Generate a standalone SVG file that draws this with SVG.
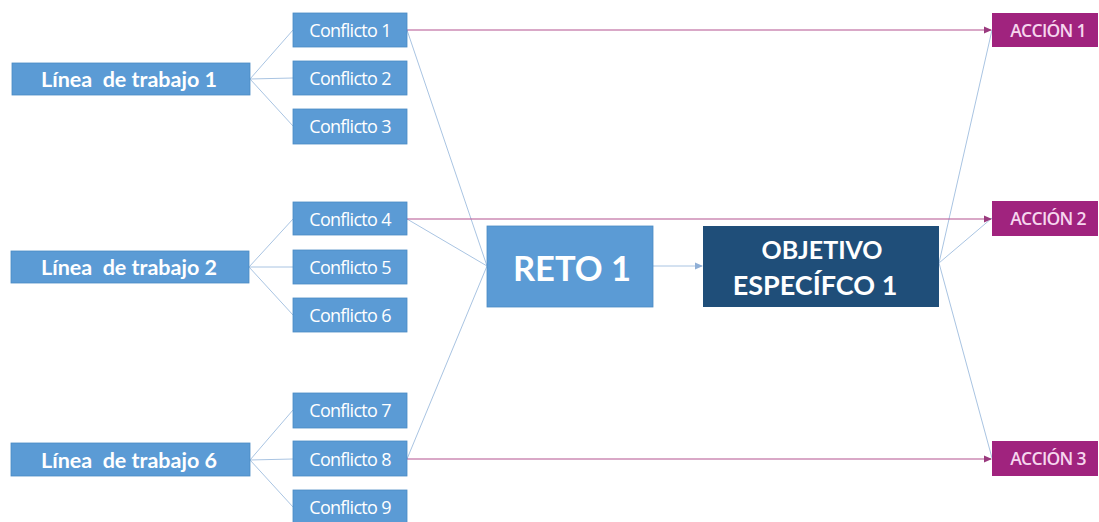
<svg xmlns="http://www.w3.org/2000/svg" width="1099" height="522" viewBox="0 0 1099 522">
<defs>
<style>
.lb{fill:#5B9BD5;stroke:#4A8AC4;stroke-width:0.8}
.db{fill:#1F4E79}
.ac{fill:#A0237E}
.t{font-family:"Open Sans","Liberation Sans",sans-serif;fill:#fff;text-anchor:middle;dominant-baseline:central}
.tl{font-family:Lato,"Open Sans",sans-serif;font-weight:bold;fill:#fff;text-anchor:middle;dominant-baseline:central;white-space:pre}
.ta{font-family:"Open Sans","Liberation Sans",sans-serif;font-weight:600;fill:#F6D6EE;text-anchor:middle;dominant-baseline:central;font-size:17.5px;letter-spacing:-0.7px}
.c{font-size:18px;letter-spacing:-0.7px}
.bl{stroke:#A9C4E2;stroke-width:1;fill:none}
.pl{stroke:#B4528F;stroke-width:1.2;fill:none}
</style>
<marker id="ap" markerWidth="8" markerHeight="8" refX="7" refY="4" orient="auto" markerUnits="userSpaceOnUse"><path d="M0,0.5 L8,4 L0,7.5 Z" fill="#9A3A7E"/></marker>
<marker id="ab" markerWidth="8" markerHeight="8" refX="7" refY="4" orient="auto" markerUnits="userSpaceOnUse"><path d="M0,0.5 L8,4 L0,7.5 Z" fill="#8FAFD6"/></marker>
</defs>
<rect width="1099" height="522" fill="#fff"/>
<g id="connectors">
<path class="bl" d="M250,79 L293,30 M250,79 L293,78 M250,79 L293,126"/>
<path class="bl" d="M249,267 L293,219 M249,267 L293,267 M249,267 L293,315"/>
<path class="bl" d="M250,460 L293,410 M250,460 L293,459 M250,460 L293,507"/>
<path class="bl" d="M407,30 L487,266 M407,219 L487,266 M407,459 L487,266"/>
<path class="bl" d="M653,266 L702,266" marker-end="url(#ab)"/>
<path class="bl" d="M939,263 L992,30 M939,263 L992,218 M939,263 L992,458"/>
<path class="pl" d="M407,30 L991,30" marker-end="url(#ap)"/>
<path class="pl" d="M407,219 L991,219" marker-end="url(#ap)"/>
<path class="pl" d="M407,459 L991,459" marker-end="url(#ap)"/>
</g>
<g id="linea1"><rect class="lb" x="12" y="63" width="238" height="32"/><text class="tl" x="129" y="79" font-size="21.5" xml:space="preserve">Línea  de trabajo 1</text></g>
<g id="linea2"><rect class="lb" x="11" y="251" width="238" height="32"/><text class="tl" x="129" y="267" font-size="21.5" xml:space="preserve">Línea  de trabajo 2</text></g>
<g id="linea6"><rect class="lb" x="11" y="443" width="239" height="33"/><text class="tl" x="129" y="460" font-size="21.5" xml:space="preserve">Línea  de trabajo 6</text></g>
<g id="conflicto1"><rect class="lb" x="293" y="13" width="114" height="34"/><text class="t c" x="350" y="30">Conflicto 1</text></g>
<g id="conflicto2"><rect class="lb" x="293" y="61" width="114" height="34"/><text class="t c" x="350" y="78">Conflicto 2</text></g>
<g id="conflicto3"><rect class="lb" x="293" y="109" width="114" height="35"/><text class="t c" x="350" y="126">Conflicto 3</text></g>
<g id="conflicto4"><rect class="lb" x="293" y="202" width="114" height="33"/><text class="t c" x="350" y="219">Conflicto 4</text></g>
<g id="conflicto5"><rect class="lb" x="293" y="250" width="114" height="34"/><text class="t c" x="350" y="267">Conflicto 5</text></g>
<g id="conflicto6"><rect class="lb" x="293" y="298" width="114" height="34"/><text class="t c" x="350" y="315">Conflicto 6</text></g>
<g id="conflicto7"><rect class="lb" x="293" y="393" width="114" height="35"/><text class="t c" x="350" y="410">Conflicto 7</text></g>
<g id="conflicto8"><rect class="lb" x="293" y="441" width="114" height="35"/><text class="t c" x="350" y="459">Conflicto 8</text></g>
<g id="conflicto9"><rect class="lb" x="293" y="490" width="114" height="35"/><text class="t c" x="350" y="507">Conflicto 9</text></g>
<g id="reto1"><rect class="lb" x="487" y="226" width="166" height="81"/><text class="tl" x="572" y="267" font-size="34.5">RETO 1</text></g>
<g id="objetivo"><rect class="db" x="703" y="226" width="236" height="81"/><text class="tl" x="822" y="249" font-size="25">OBJETIVO</text><text class="tl" x="815" y="284" font-size="27">ESPECÍFCO 1</text></g>
<g id="accion1"><rect class="ac" x="992" y="13" width="106" height="34"/><text class="ta" x="1048" y="30">ACCIÓN 1</text></g>
<g id="accion2"><rect class="ac" x="992" y="201" width="106" height="35"/><text class="ta" x="1048" y="218">ACCIÓN 2</text></g>
<g id="accion3"><rect class="ac" x="992" y="441" width="106" height="35"/><text class="ta" x="1048" y="458">ACCIÓN 3</text></g>
</svg>
